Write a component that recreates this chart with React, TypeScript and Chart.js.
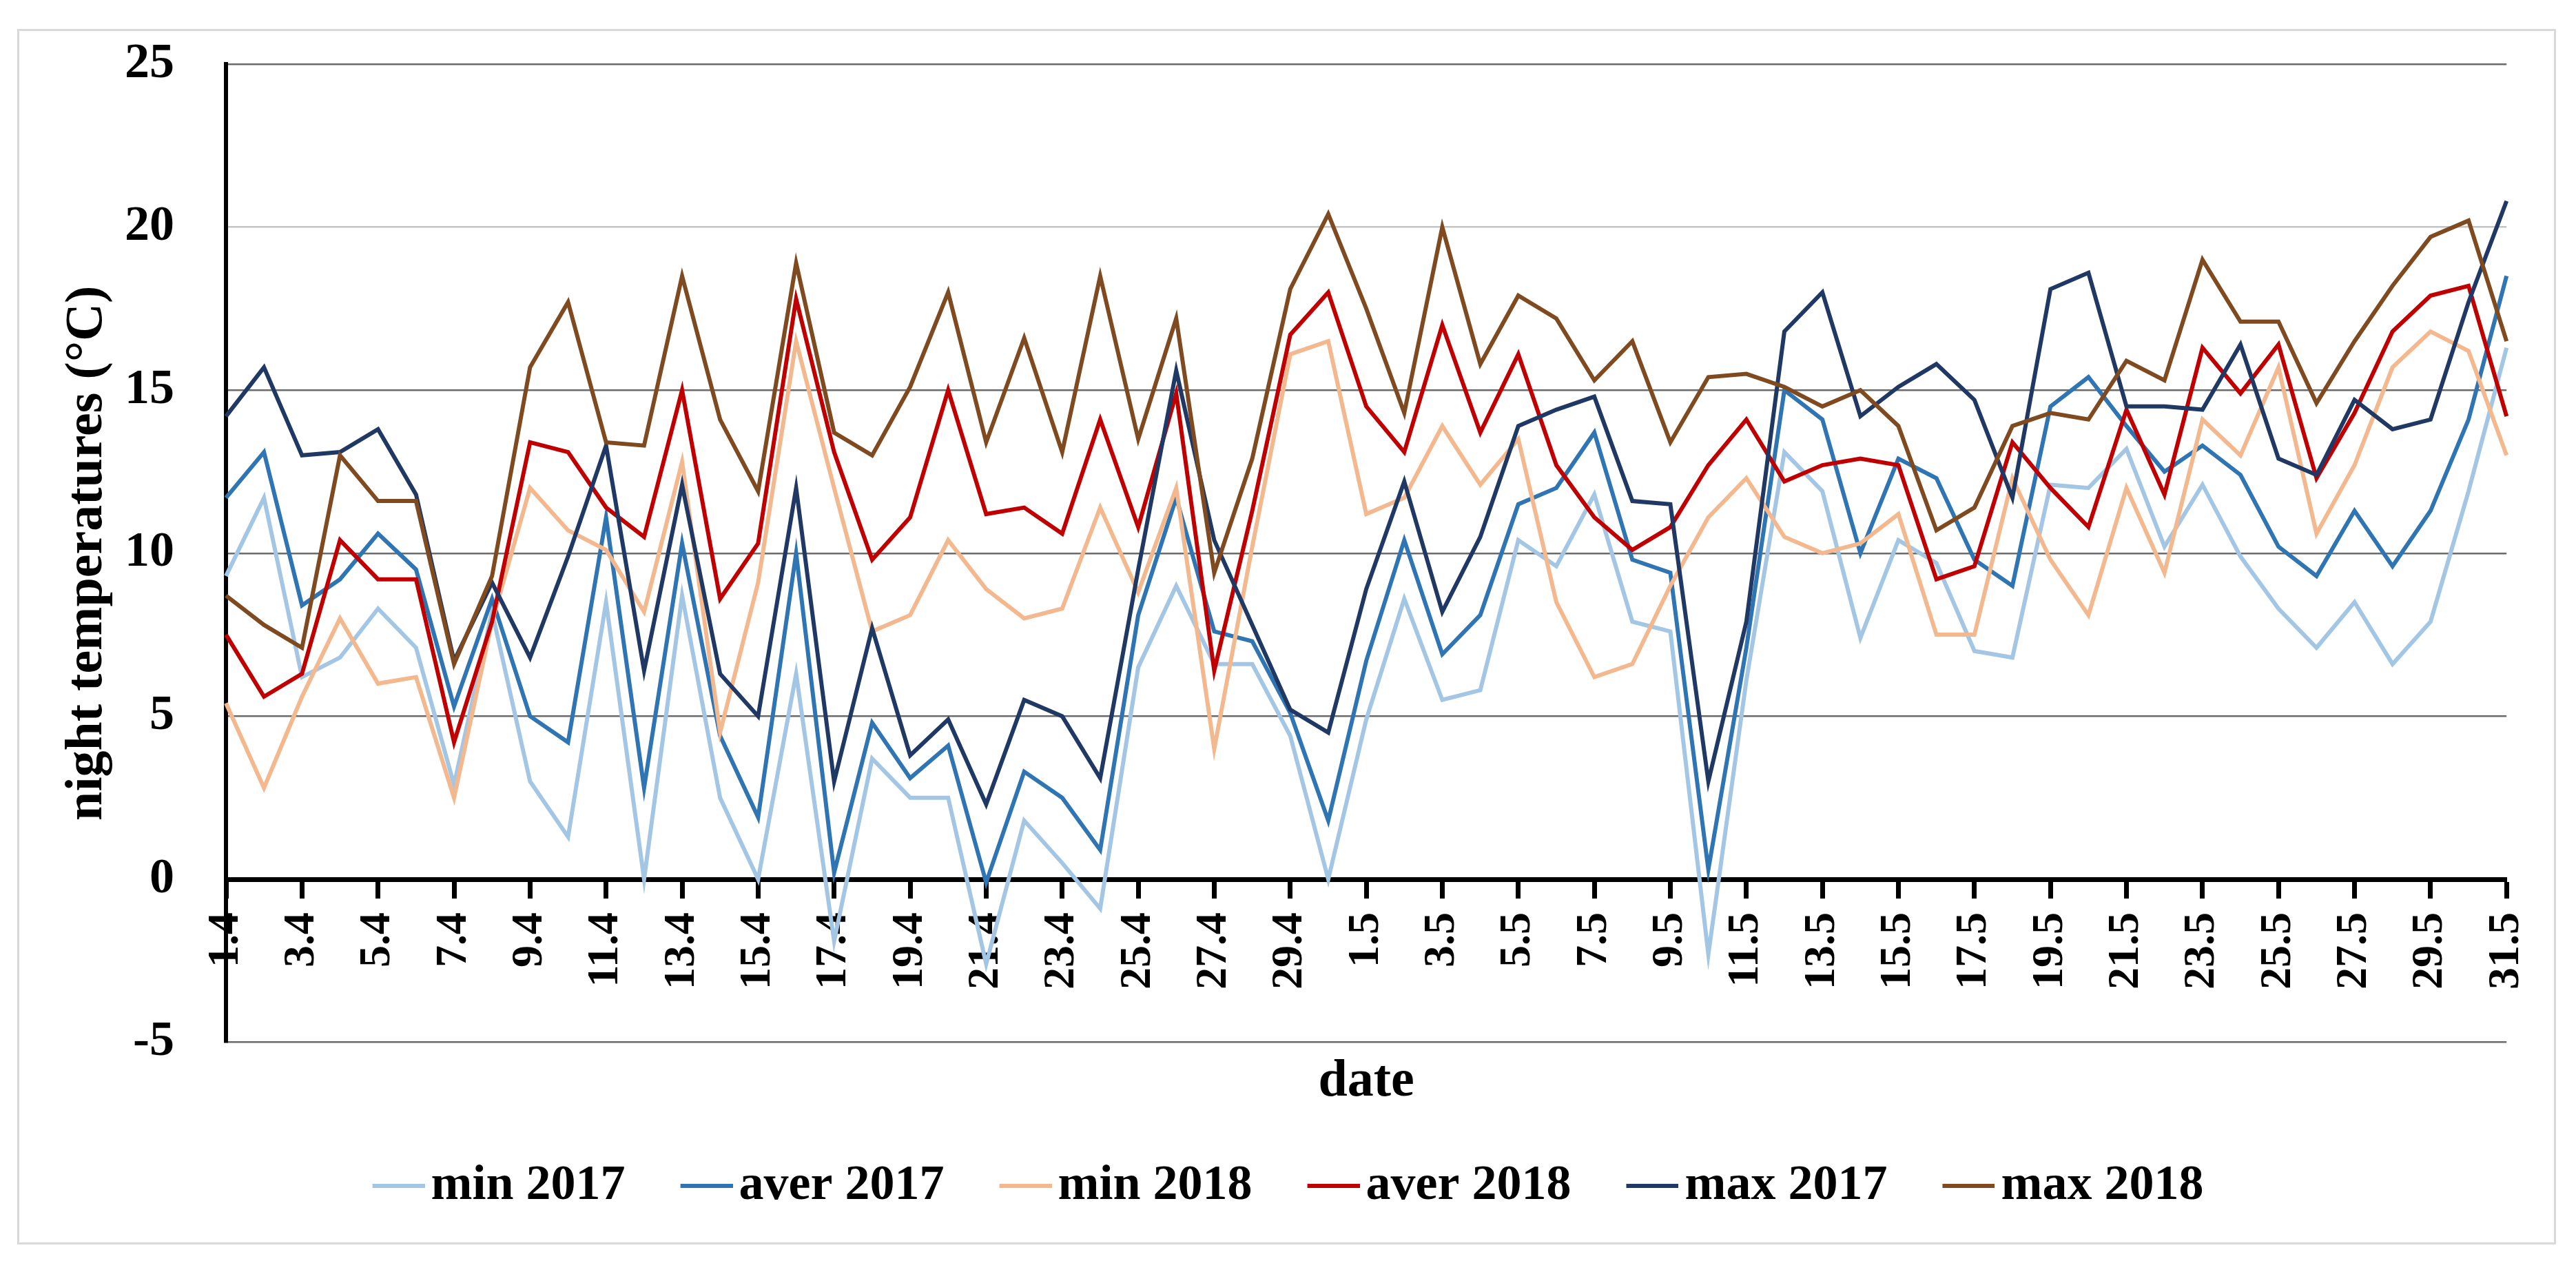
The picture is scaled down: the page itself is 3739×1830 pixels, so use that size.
import React, { useEffect, useRef } from 'react';
import { Chart, registerables } from 'chart.js';

Chart.register(...registerables);

const dates = [
  '1.4', '2.4', '3.4', '4.4', '5.4', '6.4', '7.4', '8.4', '9.4', '10.4',
  '11.4', '12.4', '13.4', '14.4', '15.4', '16.4', '17.4', '18.4', '19.4', '20.4',
  '21.4', '22.4', '23.4', '24.4', '25.4', '26.4', '27.4', '28.4', '29.4', '30.4',
  '1.5', '2.5', '3.5', '4.5', '5.5', '6.5', '7.5', '8.5', '9.5', '10.5',
  '11.5', '12.5', '13.5', '14.5', '15.5', '16.5', '17.5', '18.5', '19.5', '20.5',
  '21.5', '22.5', '23.5', '24.5', '25.5', '26.5', '27.5', '28.5', '29.5', '30.5', '31.5',
];

const min2017 = [
  9.3, 11.7, 6.2, 6.8, 8.3, 7.1, 2.9, 8.2, 3.0, 1.3,
  8.5, 0.0, 8.7, 2.5, 0.0, 6.3, -1.9, 3.7, 2.5, 2.5,
  -2.6, 1.8, 0.5, -0.9, 6.5, 9.0, 6.6, 6.6, 4.4, 0.0,
  4.9, 8.6, 5.5, 5.8, 10.4, 9.6, 11.8, 7.9, 7.6, -2.3,
  6.1, 13.1, 11.9, 7.4, 10.4, 9.7, 7.0, 6.8, 12.1, 12.0,
  13.2, 10.2, 12.1, 9.9, 8.3, 7.1, 8.5, 6.6, 7.9, 11.9, 16.3,
];

const aver2017 = [
  11.7, 13.1, 8.4, 9.2, 10.6, 9.5, 5.3, 8.6, 5.0, 4.2,
  11.1, 2.8, 10.3, 4.4, 1.9, 10.0, 0.2, 4.8, 3.1, 4.1,
  -0.1, 3.3, 2.5, 0.9, 8.1, 11.7, 7.6, 7.3, 5.1, 1.8,
  6.7, 10.4, 6.9, 8.1, 11.5, 12.0, 13.7, 9.8, 9.4, 0.3,
  7.1, 15.0, 14.1, 10.0, 12.9, 12.3, 9.8, 9.0, 14.5, 15.4,
  13.9, 12.5, 13.3, 12.4, 10.2, 9.3, 11.3, 9.6, 11.3, 14.1, 18.5,
];

const min2018 = [
  5.4, 2.8, 5.6, 8.0, 6.0, 6.2, 2.5, 7.9, 12.0, 10.7,
  10.1, 8.2, 12.8, 4.5, 9.1, 16.5, 12.0, 7.6, 8.1, 10.4,
  8.9, 8.0, 8.3, 11.4, 8.8, 12.0, 4.0, 10.2, 16.1, 16.5,
  11.2, 11.7, 13.9, 12.1, 13.5, 8.5, 6.2, 6.6, 9.0, 11.1,
  12.3, 10.5, 10.0, 10.3, 11.2, 7.5, 7.5, 12.3, 9.8, 8.1,
  12.0, 9.4, 14.1, 13.0, 15.7, 10.6, 12.7, 15.7, 16.8, 16.2, 13.0,
];

const aver2018 = [
  7.5, 5.6, 6.3, 10.4, 9.2, 9.2, 4.2, 7.9, 13.4, 13.1,
  11.4, 10.5, 15.0, 8.6, 10.3, 17.8, 13.1, 9.8, 11.1, 15.0,
  11.2, 11.4, 10.6, 14.1, 10.8, 14.9, 6.4, 11.3, 16.7, 18.0,
  14.5, 13.1, 17.0, 13.7, 16.1, 12.7, 11.1, 10.1, 10.8, 12.7,
  14.1, 12.2, 12.7, 12.9, 12.7, 9.2, 9.6, 13.4, 12.0, 10.8,
  14.4, 11.8, 16.3, 14.9, 16.4, 12.3, 14.3, 16.8, 17.9, 18.2, 14.2,
];

const max2017 = [
  14.2, 15.7, 13.0, 13.1, 13.8, 11.8, 6.7, 9.1, 6.8, 9.9,
  13.3, 6.4, 12.1, 6.3, 5.0, 12.0, 3.0, 7.7, 3.8, 4.9,
  2.3, 5.5, 5.0, 3.1, 9.5, 15.6, 10.4, 7.8, 5.2, 4.5,
  8.9, 12.2, 8.2, 10.5, 13.9, 14.4, 14.8, 11.6, 11.5, 3.0,
  7.9, 16.8, 18.0, 14.2, 15.1, 15.8, 14.7, 11.7, 18.1, 18.6,
  14.5, 14.5, 14.4, 16.4, 12.9, 12.4, 14.7, 13.8, 14.1, 17.7, 20.8,
];

const max2018 = [
  8.7, 7.8, 7.1, 13.0, 11.6, 11.6, 6.6, 9.3, 15.7, 17.7,
  13.4, 13.3, 18.5, 14.1, 11.9, 18.9, 13.7, 13.0, 15.1, 18.0,
  13.4, 16.6, 13.1, 18.5, 13.5, 17.2, 9.4, 12.9, 18.1, 20.4,
  17.5, 14.3, 20.0, 15.8, 17.9, 17.2, 15.3, 16.5, 13.4, 15.4,
  15.5, 15.1, 14.5, 15.0, 13.9, 10.7, 11.4, 13.9, 14.3, 14.1,
  15.9, 15.3, 19.0, 17.1, 17.1, 14.6, 16.5, 18.2, 19.7, 20.2, 16.5,
];

const seriesLabels = ['min 2017', 'aver 2017', 'min 2018', 'aver 2018', 'max 2017', 'max 2018'];
const seriesValues = [min2017, aver2017, min2018, aver2018, max2017, max2018];
const seriesColors = ['#a3c6e5', '#2f74b3', '#f4b88f', '#c00000', '#1f3864', '#7f4a1f'];

const yMin = -5;
const yMax = 25;
const yStep = 5;

const FONT = "'Liberation Serif', 'Times New Roman', serif";

function makeSwatch(color: string): HTMLCanvasElement {
  const c = document.createElement('canvas');
  c.width = 103;
  c.height = 8;
  const g = c.getContext('2d');
  if (g) {
    g.strokeStyle = color;
    g.lineWidth = 6;
    g.beginPath();
    g.moveTo(27, 4);
    g.lineTo(103, 4);
    g.stroke();
  }
  return c;
}

export default function App() {
  const ref = useRef<HTMLCanvasElement>(null);

  useEffect(() => {
    if (!ref.current) return;
    // later series are drawn on top: hand Chart.js the reversed list
    const order = [5, 4, 3, 2, 1, 0];
    const datasets = order.map((i) => ({
      label: seriesLabels[i],
      data: seriesValues[i],
      borderColor: seriesColors[i],
      backgroundColor: seriesColors[i],
      borderWidth: 6,
      pointRadius: 0,
      pointHoverRadius: 0,
      pointStyle: makeSwatch(seriesColors[i]),
      tension: 0,
      fill: false,
    }));

    const chart = new Chart(ref.current, {
      type: 'line',
      data: { labels: dates, datasets: datasets as any },
      options: {
        responsive: true,
        maintainAspectRatio: false,
        animation: false,
        events: [],
        layout: { padding: { top: 93, left: 0, right: 0, bottom: 63 } },
        plugins: {
          legend: {
            position: 'bottom',
            reverse: true,
            labels: {
              usePointStyle: true,
              pointStyleWidth: 49,
              padding: 80,
              color: '#000',
              font: { family: FONT, size: 72, weight: 'bold' },
            },
          },
          title: {
            display: true,
            text: 'date',
            position: 'bottom',
            weight: 500,
            fullSize: false,
            color: '#000',
            font: { family: FONT, size: 76, weight: 'bold', lineHeight: 0.9 },
            padding: { top: 24, bottom: 0 },
          },
          tooltip: { enabled: false },
        },
        scales: {
          x: {
            type: 'category',
            position: { y: 0 } as any,
            offset: false,
            grid: {
              display: true,
              drawOnChartArea: false,
              drawTicks: true,
              tickLength: 24,
              tickWidth: 7,
              tickColor: (ctx: any) => (ctx.index % 2 === 0 ? '#000' : 'rgba(0,0,0,0)'),
            },
            border: { display: true, color: '#000', width: 7 },
            ticks: {
              autoSkip: false,
              minRotation: 90,
              maxRotation: 90,
              padding: 24,
              color: '#000',
              font: { family: FONT, size: 64, weight: 'bold' },
              callback: (_v: any, i: number) => (i % 2 === 0 ? dates[i] : ''),
            },
          },
          y: {
            type: 'linear',
            position: 'left',
            min: yMin,
            max: yMax,
            ticks: {
              stepSize: yStep,
              padding: 0,
              color: '#000',
              font: { family: FONT, size: 72, weight: 'bold' },
            },
            grid: {
              drawTicks: true,
              tickLength: 75,
              tickColor: 'rgba(0,0,0,0)',
              lineWidth: 2.5,
              color: (ctx: any) => {
                const v = ctx.tick ? ctx.tick.value : null;
                if (v === 0) return 'rgba(0,0,0,0)';
                if (v === 20) return '#c4c4c4';
                return '#6b6b6b';
              },
            },
            border: { display: true, color: '#000', width: 6 },
            title: {
              display: true,
              text: 'night temperatures (°C)',
              color: '#000',
              font: { family: FONT, size: 76, weight: 'bold' },
              padding: { top: 82, bottom: 0 },
            },
            afterFit: (s: any) => {
              s.width = 328;
            },
          },
          yRight: {
            type: 'linear',
            position: 'right',
            display: true,
            ticks: { display: false },
            grid: { display: false },
            border: { display: false },
            afterFit: (s: any) => {
              s.width = 71;
            },
          },
        },
      } as any,
    });
    return () => chart.destroy();
  }, []);

  return (
    <div>
      <div
        style={{
          position: 'absolute',
          left: 25,
          top: 42,
          width: 3685,
          height: 1764,
          border: '3px solid #d9d9d9',
          boxSizing: 'border-box',
          pointerEvents: 'none',
        }}
      />
      <div style={{ position: 'absolute', left: 0, top: 0, width: 3739, height: 1830 }}>
        <canvas ref={ref} />
      </div>
    </div>
  );
}
